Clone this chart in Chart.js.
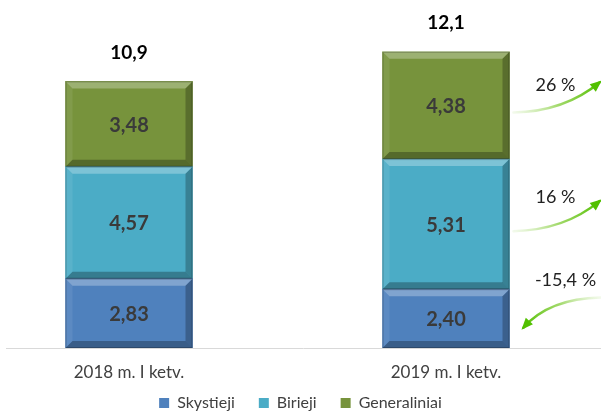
<!DOCTYPE html>
<html>
<head>
<meta charset="utf-8">
<script src="https://cdn.jsdelivr.net/npm/chart.js@4.4.1/dist/chart.umd.min.js"></script>
<style>
  html, body { margin: 0; padding: 0; background: #fff; overflow: hidden; }
  #wrap { width: 601px; height: 412px; }
</style>
</head>
<body>
<div id="wrap"><canvas id="chart" width="601" height="412"></canvas></div>
<script>
const categories = ['2018 m. I ketv.', '2019 m. I ketv.'];
const seriesNames = ['Skystieji', 'Birieji', 'Generaliniai'];
const skystieji = [2.83, 2.40];
const birieji = [4.57, 5.31];
const generaliniai = [3.48, 4.38];
const changes = ['-15,4 %', '16 %', '26 %'];   // per series, 2019 vs 2018
const colors = ['#4f81bd', '#4bacc6', '#77933c'];

const fmt = (v, d) => v.toFixed(d).replace('.', ',');
const FONT = 'Lato, "Liberation Sans", sans-serif';

// nudge the legend up a little (wider item spacing than its box allows)
const legendNudge = {
    id: 'legendNudge',
    afterLayout(chart) {
        chart.legend.top -= 9;
        chart.legend.bottom -= 9;
    }
};

// bevel + labels + arrows
const decor = {
    id: 'decor',
    afterDatasetsDraw(chart) {
        const ctx = chart.ctx;
        const b = 7;
        chart.data.datasets.forEach((ds, di) => {
            chart.getDatasetMeta(di).data.forEach((bar, i) => {
                const l = bar.x - bar.width / 2, r = bar.x + bar.width / 2;
                const t = bar.y, btm = bar.base;
                const poly = (pts, fill) => {
                    ctx.beginPath();
                    ctx.moveTo(pts[0][0], pts[0][1]);
                    pts.slice(1).forEach(p => ctx.lineTo(p[0], p[1]));
                    ctx.closePath();
                    ctx.fillStyle = fill;
                    ctx.fill();
                };
                ctx.save();
                poly([[l, t], [r, t], [r - b, t + b], [l + b, t + b]], 'rgba(255,255,255,0.28)');
                poly([[l, t], [l + b, t + b], [l + b, btm - b], [l, btm]], 'rgba(255,255,255,0.08)');
                poly([[r, t], [r, btm], [r - b, btm - b], [r - b, t + b]], 'rgba(0,0,0,0.25)');
                poly([[l, btm], [r, btm], [r - b, btm - b], [l + b, btm - b]], 'rgba(0,0,0,0.28)');
                ctx.strokeStyle = 'rgba(0,0,0,0.22)';
                ctx.lineWidth = 1;
                ctx.strokeRect(l + 0.5, t + 0.5, bar.width - 1, btm - t - 1);
                // value label
                ctx.fillStyle = '#3a3a3a';
                ctx.font = 'bold 20px ' + FONT;
                ctx.textAlign = 'center';
                ctx.textBaseline = 'middle';
                ctx.fillText(fmt(ds.data[i], 2), bar.x, (t + btm) / 2 + 1);
                ctx.restore();
            });
        });

        // totals above stacks
        const topMeta = chart.getDatasetMeta(chart.data.datasets.length - 1);
        topMeta.data.forEach((bar, i) => {
            const total = skystieji[i] + birieji[i] + generaliniai[i];
            ctx.save();
            ctx.fillStyle = '#000';
            ctx.font = 'bold 19px ' + FONT;
            ctx.textAlign = 'center';
            ctx.textBaseline = 'middle';
            ctx.fillText(fmt(total, 1), bar.x, bar.y - 29);
            ctx.restore();
        });

        // baseline
        const yb = chart.scales.y.getPixelForValue(0);
        ctx.save();
        ctx.strokeStyle = '#d9d9d9';
        ctx.lineWidth = 1;
        ctx.beginPath();
        ctx.moveTo(6, Math.round(yb) + 0.5);
        ctx.lineTo(chart.width, Math.round(yb) + 0.5);
        ctx.stroke();
        ctx.restore();

        // change arrows next to the 2019 bar
        const arrow = (x1, y1, cx, cy, x2, y2) => {
            const g = ctx.createLinearGradient(x1, y1, x2, y2);
            g.addColorStop(0, 'rgba(170,220,120,0.15)');
            g.addColorStop(0.5, 'rgba(120,200,40,0.7)');
            g.addColorStop(1, '#52c000');
            ctx.save();
            ctx.strokeStyle = g;
            ctx.lineWidth = 2.5;
            ctx.lineCap = 'round';
            ctx.beginPath();
            ctx.moveTo(x1, y1);
            ctx.quadraticCurveTo(cx, cy, x2, y2);
            ctx.stroke();
            const ang = Math.atan2(y2 - cy, x2 - cx);
            const h = 10;
            ctx.fillStyle = '#52c000';
            ctx.beginPath();
            ctx.moveTo(x2 + Math.cos(ang) * 3, y2 + Math.sin(ang) * 3);
            ctx.lineTo(x2 - Math.cos(ang - 0.5) * h, y2 - Math.sin(ang - 0.5) * h);
            ctx.lineTo(x2 - Math.cos(ang + 0.5) * h, y2 - Math.sin(ang + 0.5) * h);
            ctx.closePath();
            ctx.fill();
            ctx.restore();
        };
        const label = (txt, x, y) => {
            ctx.save();
            ctx.fillStyle = '#222';
            ctx.font = '18px ' + FONT;
            ctx.textAlign = 'center';
            ctx.textBaseline = 'middle';
            ctx.fillText(txt, x, y);
            ctx.restore();
        };
        chart.data.datasets.forEach((ds, di) => {
            const bar = chart.getDatasetMeta(di).data[1];
            const r = bar.x + bar.width / 2;
            const mid = (bar.y + bar.base) / 2;
            if (di === 0) {
                arrow(r + 91, mid - 21, r + 40, mid - 20, r + 14, mid + 9);
                label(changes[di], r + 56, mid - 38);
            } else {
                arrow(r + 4, mid + 7, r + 55, mid + 6, r + 90, mid - 23);
                label(changes[di], r + 46, mid - (di === 2 ? 20 : 27));
            }
        });
    }
};

const hiddenSide = (width, position) => ({
    position,
    display: true,
    grid: { display: false, drawTicks: false },
    border: { display: false },
    ticks: { display: false },
    afterFit(scale) { scale.width = width; }
});

new Chart(document.getElementById('chart'), {
    type: 'bar',
    data: {
        labels: categories,
        datasets: [
            { label: seriesNames[0], data: skystieji, backgroundColor: colors[0] },
            { label: seriesNames[1], data: birieji, backgroundColor: colors[1] },
            { label: seriesNames[2], data: generaliniai, backgroundColor: colors[2] }
        ].map(d => Object.assign(d, { barThickness: 127, clip: false, borderWidth: 0 }))
    },
    options: {
        responsive: false,
        animation: false,
        devicePixelRatio: 1,
        layout: { padding: { left: 0, right: 0, top: 5, bottom: -18 } },
        plugins: {
            legend: {
                position: 'bottom',
                labels: {
                    boxWidth: 10, boxHeight: 10, padding: 24,
                    color: '#404040',
                    font: { family: FONT, size: 16 }
                }
            },
            tooltip: { enabled: false }
        },
        scales: {
            x: {
                stacked: true,
                offset: false,
                grid: { display: false, drawTicks: false },
                border: { display: false },
                ticks: { color: '#404040', font: { family: FONT, size: 17, lineHeight: 1 }, padding: 16 },
                afterFit(scale) { scale.height = 32; }
            },
            y: Object.assign(hiddenSide(129, 'left'), { stacked: true, min: 0, max: 14 }),
            yRight: Object.assign(hiddenSide(155, 'right'), { type: 'linear', min: 0, max: 14 })
        }
    },
    plugins: [legendNudge, decor]
});
</script>
</body>
</html>
